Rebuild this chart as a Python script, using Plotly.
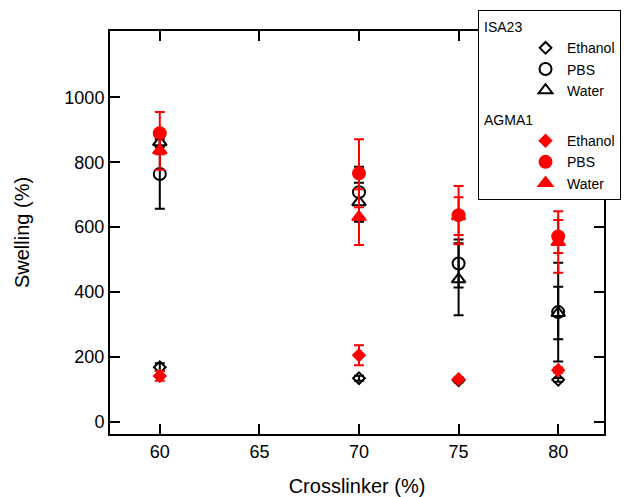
import plotly.graph_objects as go

crosslinker = [60, 70, 75, 80]

isa_ethanol = [168, 134, 128, 129]
isa_ethanol_err = [12, 8, 6, 6]
isa_pbs = [764, 708, 488, 338]
isa_pbs_err = [107, 78, 74, 152]
isa_water = [862, 677, 439, 335]
isa_water_err = [15, 60, 111, 81]

agma_ethanol = [141, 205, 131, 159]
agma_ethanol_err = [15, 31, 6, 8]
agma_pbs = [890, 766, 637, 571]
agma_pbs_err = [65, 105, 90, 51]
agma_water = [837, 631, 634, 554]
agma_water_err = [60, 86, 58, 95]

series = [
    ("ISA23", "Ethanol", isa_ethanol, isa_ethanol_err, "diamond-open", "black"),
    ("ISA23", "PBS", isa_pbs, isa_pbs_err, "circle-open", "black"),
    ("ISA23", "Water", isa_water, isa_water_err, "triangle-up-open", "black"),
    ("AGMA1", "Ethanol", agma_ethanol, agma_ethanol_err, "diamond", "red"),
    ("AGMA1", "PBS", agma_pbs, agma_pbs_err, "circle", "red"),
    ("AGMA1", "Water", agma_water, agma_water_err, "triangle-up", "red"),
]

fig = go.Figure()
seen = set()
for grp, name, vals, errs, sym, col in series:
    size = 9 if "diamond" in sym else 12
    fig.add_trace(go.Scatter(
        x=crosslinker, y=vals, mode="markers", name=name,
        legendgroup=grp,
        legendgrouptitle=dict(text=grp if grp not in seen else None,
                              font=dict(size=14, color="black")),
        marker=dict(symbol=sym, size=size, color=col,
                    line=dict(color=col, width=2)),
        error_y=dict(type="data", array=errs, visible=True, color=col,
                     thickness=2, width=5),
    ))
    seen.add(grp)

fig.update_layout(
    width=624, height=497,
    margin=dict(l=110, r=20, t=31, b=63, autoexpand=False),
    paper_bgcolor="white", plot_bgcolor="white",
    font=dict(family="Liberation Sans, Arial, sans-serif", color="black", size=18),
    legend=dict(x=0.745, y=1.052, xanchor="left", yanchor="top",
                bordercolor="black", borderwidth=1, bgcolor="white",
                font=dict(size=14), indentation=45, tracegroupgap=8,
                itemwidth=33),
    xaxis=dict(range=[57.5, 82.3], tickvals=[60, 65, 70, 75, 80],
               ticks="inside", ticklen=10, tickwidth=2, tickcolor="black",
               showline=True, linewidth=2, linecolor="black", mirror="ticks",
               showgrid=False, zeroline=False,
               title=dict(text="Crosslinker (%)", font=dict(size=20), standoff=20)),
    yaxis=dict(range=[-38, 1205], tickvals=[0, 200, 400, 600, 800, 1000],
               ticks="inside", ticklen=10, tickwidth=2, tickcolor="black",
               showline=True, linewidth=2, linecolor="black", mirror="ticks",
               showgrid=False, zeroline=False,
               title=dict(text="Swelling (%)", font=dict(size=20), standoff=29)),
)

fig.write_html("out.html")
